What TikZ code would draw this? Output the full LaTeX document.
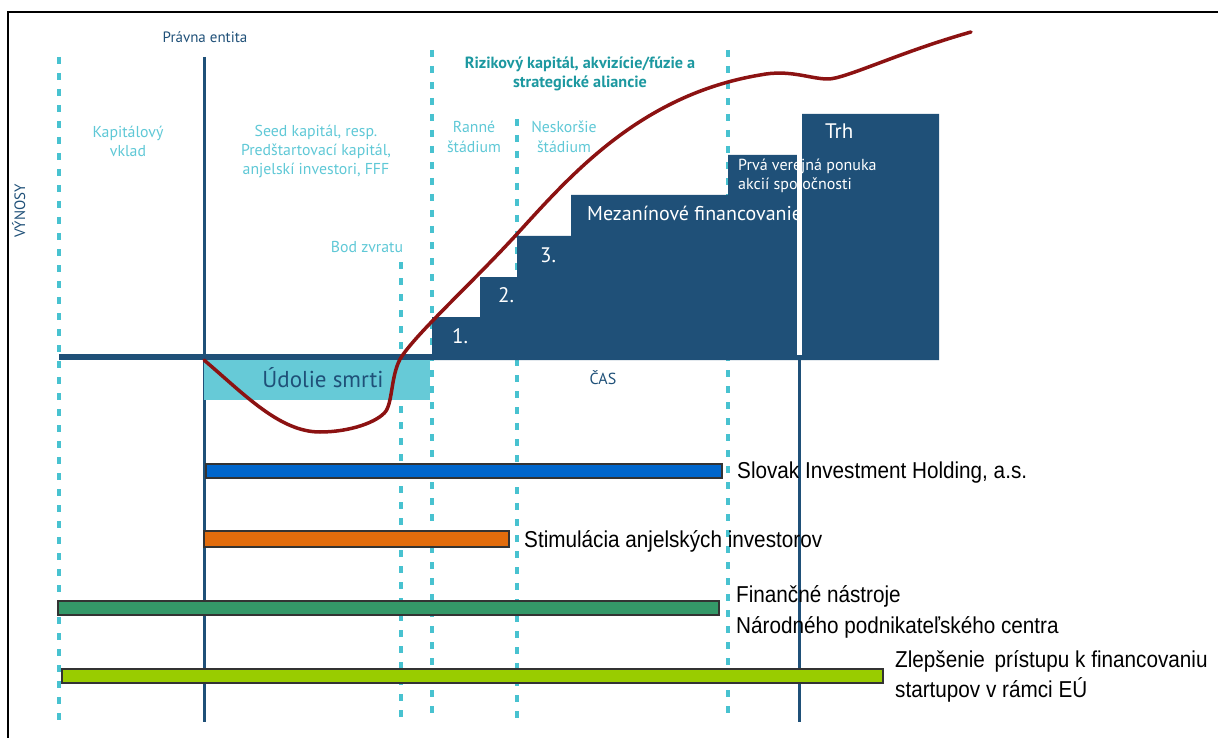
\documentclass[tikz,border=0pt]{standalone}
\usepackage{fontspec}
\setmainfont{PT Sans}
\newfontfamily\barfont[FakeStretch=0.9]{Liberation Sans}
\definecolor{dblue}{RGB}{31,80,120}
\definecolor{dcyan}{RGB}{72,194,208}
\definecolor{ltcyan}{RGB}{95,200,214}
\definecolor{teal}{RGB}{28,152,160}
\definecolor{valley}{RGB}{102,202,215}
\definecolor{dred}{RGB}{140,18,18}
\definecolor{barblue}{RGB}{0,102,204}
\definecolor{barorange}{RGB}{226,108,12}
\definecolor{bargreen}{RGB}{52,152,104}
\definecolor{barlime}{RGB}{153,204,0}
\tikzset{
  dashv/.style={draw=dcyan, line width=3.5pt, dash pattern=on 7pt off 9pt},
  solidv/.style={draw=dblue, line width=3pt},
  txt/.style={inner sep=0pt, anchor=base},
  cyantxt/.style={txt, text=ltcyan, font=\fontsize{15.8}{19}\selectfont},
  bluetxt/.style={txt, text=dblue, font=\fontsize{15}{18}\selectfont},
  titletxt/.style={txt, text=teal, font=\bfseries\fontsize{16.2}{19}\selectfont},
  whitetxt/.style={txt, anchor=base west, text=white},
  bar/.style={draw=black!80, line width=1.2pt},
  barlbl/.style={inner sep=0pt, anchor=base west, font=\barfont\fontsize{23}{27}\selectfont}
}
\begin{document}
\begin{tikzpicture}[x=1pt,y=-1pt]
\useasboundingbox (0,0) rectangle (1218,738);
% frame
\draw[black, line width=2pt] (8,738) -- (8,12) -- (1218,12);

% dashed vertical lines
\draw[dashv] (59,57) -- (59,722);
\draw[dashv] (432,50) -- (432,722);
\draw[dashv] (517,119) -- (517,722);
\draw[dashv] (728,50) -- (728,722);
\draw[dashv] (401,262) -- (401,722);

% solid vertical lines
\draw[solidv] (204,57) -- (204,722);
\draw[solidv] (799,358) -- (799,722);

% axis
\fill[dblue] (59,354) rectangle (432,360);

% valley of death
\fill[valley] (204,360) rectangle (430,400);
\node[txt, text=dblue, font=\fontsize{23}{27}\selectfont] (udolie) at (323,387) {Údolie smrti};

% staircase block
\fill[dblue] (432,360) -- (432,317) -- (480,317) -- (480,277) -- (517,277) -- (517,236)
  -- (571,236) -- (571,195) -- (728,195) -- (728,155) -- (799,155) -- (799,114)
  -- (939,114) -- (939,360) -- cycle;

\node[whitetxt, font=\fontsize{21}{25}\selectfont] (s1) at (452,343) {1.};
\node[whitetxt, font=\fontsize{21}{25}\selectfont] (s2) at (498,302) {2.};
\node[whitetxt, font=\fontsize{21}{25}\selectfont] (s3) at (540,262) {3.};
\node[whitetxt, font=\fontsize{20}{24}\selectfont] (mez) at (587,221) {Mezanínové financovanie};
\node[whitetxt, font=\fontsize{16}{19}\selectfont] (ipo1) at (738,171) {Prvá verejná ponuka};
\node[whitetxt, font=\fontsize{16}{19}\selectfont] (ipo2) at (738,190) {akcií spoločnosti};
\node[whitetxt, font=\fontsize{21}{25}\selectfont] (trh) at (825,139) {Trh};
% white gap
\fill[white] (797,110) rectangle (801.5,355);

% upper labels
\node[bluetxt] (pravna) at (205,43) {Právna entita};
\node[cyantxt] (kap1) at (128,138) {Kapitálový};
\node[cyantxt] (kap2) at (128,157) {vklad};
\node[cyantxt] (seed1) at (316,137) {Seed kapitál, resp.};
\node[cyantxt] (seed2) at (316,156) {Predštartovací kapitál,};
\node[cyantxt] (seed3) at (316,175) {anjelskí investori, FFF};
\node[cyantxt] (bod) at (367,252) {Bod zvratu};
\node[titletxt] (riz1) at (580,69) {Rizikový kapitál, akvizície/fúzie a};
\node[titletxt] (riz2) at (580,88) {strategické aliancie};
\node[cyantxt] (ran1) at (474,133) {Ranné};
\node[cyantxt] (ran2) at (474,153) {štádium};
\node[cyantxt] (nes1) at (564,133) {Neskoršie};
\node[cyantxt] (nes2) at (564,153) {štádium};
\node[bluetxt, font=\fontsize{16}{19}\selectfont] (cas) at (603,384) {ČAS};
\node[bluetxt, font=\fontsize{15}{18}\selectfont, rotate=90] (vynosy) at (25,211) {VÝNOSY};

% revenue curve
\draw[dred, line width=3.5pt, line cap=round, line join=round]
  (204,360) .. controls (245,395) and (280,432) .. (320,432)
  .. controls (350,432) and (378,422) .. (386,411)
  .. controls (393,400) and (391,372) .. (402,356)
  .. controls (420,330) and (470,285) .. (517,234)
  .. controls (570,176) and (640,95) .. (760,75)
  .. controls (790,69) and (810,79) .. (828,79)
  .. controls (845,79) and (900,52) .. (971,32);

% bars
\filldraw[bar, fill=barblue] (206,464) rectangle (722,478);
\node[barlbl] (sih) at (737,478) {Slovak Investment Holding, a.s.};
\filldraw[bar, fill=barorange] (204,531) rectangle (509,547);
\node[barlbl] (stim) at (524,547) {Stimulácia anjelských investorov};
\filldraw[bar, fill=bargreen] (58,601) rectangle (719,615);
\node[barlbl] (fin1) at (736,602) {Finančné nástroje};
\node[barlbl] (fin2) at (736,633) {Národného podnikateľského centra};
\filldraw[bar, fill=barlime] (62,669) rectangle (883,683);
\node[barlbl] (eu1) at (895,667) {Zlepšenie\hspace{4pt} prístupu k financovaniu};
\node[barlbl] (eu2) at (895,697) {startupov v rámci EÚ};
\end{tikzpicture}
\end{document}
